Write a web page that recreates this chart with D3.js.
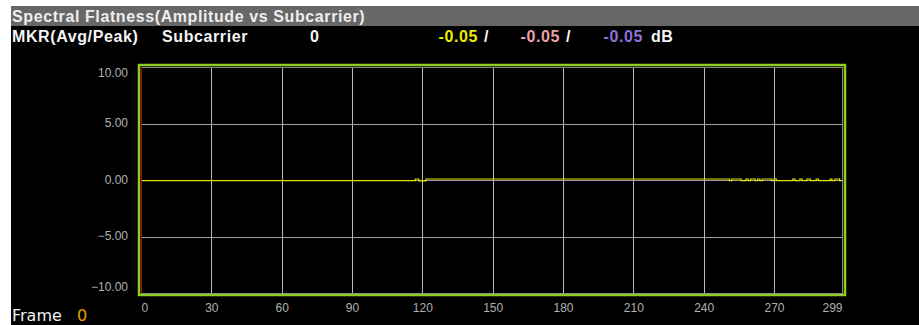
<!DOCTYPE html>
<html><head><meta charset="utf-8">
<script src="https://cdn.jsdelivr.net/npm/d3@7"></script>
<style>body{margin:0;background:#fff;} svg{display:block}</style>
</head><body><svg id="c" width="919" height="325"></svg>
<script>
// ---- data ----
const chartTitle = "Spectral Flatness(Amplitude vs Subcarrier)";
const markerLabel = "MKR(Avg/Peak)";
const markerAxisLabel = "Subcarrier";
const markerSubcarrier = 0;
const markerValues = [-0.05, -0.05, -0.05];
const markerUnit = "dB";
const frameLabel = "Frame";
const frameNumber = 0;
const xDomain = [0, 299];
const yDomain = [-10, 10];
const xTicks = [0, 30, 60, 90, 120, 150, 180, 210, 240, 270, 299];
const yTicks = [10, 5, 0, -5, -10];
// trace as runs: [fromSubcarrier, toSubcarrier, dB]
const traceRuns = [
  [0, 117, -0.05], [117, 118.5, 0.09], [118.5, 121.5, -0.08], [121.5, 251, 0.09],
  [251, 252, -0.05], [252, 256, 0.09], [256, 258, -0.05], [258, 259, 0.09],
  [259, 260, -0.05], [260, 262, 0.09], [262, 263, -0.05], [263, 264, 0.09],
  [264, 265, -0.05], [265, 269, 0.09], [269, 270, -0.05], [270, 271, 0.09],
  [271, 278, -0.05], [278, 279, 0.09], [279, 281, -0.05], [281, 282, 0.09],
  [282, 284, -0.05], [284, 285.5, 0.09], [285.5, 288, -0.05], [288, 289, 0.09],
  [289, 294, -0.05], [294, 294.7, 0.09], [294.7, 296, -0.05], [296, 298, 0.09],
  [298, 299, -0.05]
];

// ---- styles ----
const markerColors = ["#eded00", "#e9a3ab", "#8f72da"];
const headerFont = "'Liberation Sans', Arial, sans-serif";
const frameFont = "'DejaVu Sans', sans-serif";
const tickFont = "'Liberation Sans', Arial, sans-serif";

const svg = d3.select("#c");
svg.append("rect").attr("x", 11).attr("y", 6).attr("width", 908).attr("height", 20).attr("fill", "#676767");
svg.append("rect").attr("x", 11).attr("y", 26).attr("width", 908).attr("height", 299).attr("fill", "#000");

const hdr = (sel) => sel.attr("font-family", headerFont).attr("font-size", 16)
  .attr("font-weight", "bold").attr("letter-spacing", 0.6);

hdr(svg.append("text")).attr("x", 12).attr("y", 21.5).attr("fill", "#eeeeee").text(chartTitle);

const row = hdr(svg.append("g"));
row.append("text").attr("x", 12).attr("y", 42).attr("fill", "#f4f4f4").text(markerLabel);
row.append("text").attr("x", 162).attr("y", 42).attr("fill", "#f4f4f4").text(markerAxisLabel);
row.append("text").attr("x", 310).attr("y", 42).attr("fill", "#f4f4f4").text(markerSubcarrier);
const valEnds = [478, 560, 643];
const fmtV = v => v.toFixed(2);
markerValues.forEach((v, i) => {
  row.append("text").attr("x", valEnds[i]).attr("y", 42).attr("text-anchor", "end")
    .attr("fill", markerColors[i]).text(fmtV(v));
  if (i < markerValues.length - 1)
    row.append("text").attr("x", valEnds[i] + 6).attr("y", 42).attr("fill", "#f4f4f4").text("/");
});
row.append("text").attr("x", 651).attr("y", 42).attr("fill", "#f4f4f4").text(markerUnit);

svg.append("text").attr("x", 12).attr("y", 321).attr("font-family", frameFont).attr("font-size", 16)
  .attr("fill", "#f0f0f0").text(frameLabel);
svg.append("text").attr("x", 77).attr("y", 321).attr("font-family", frameFont).attr("font-size", 16)
  .attr("fill", "#e6a000").text(frameNumber);

// ---- plot ----
const L = 141, R = 842, T = 67, B = 293;
const x = d3.scaleLinear().domain(xDomain).range([L, R]);
const y = d3.scaleLinear().domain(yDomain).range([B, T]);

// green frame
svg.append("rect").attr("x", 139).attr("y", 65).attr("width", 706).attr("height", 230)
  .attr("fill", "none").attr("stroke", "#8fcf1f").attr("stroke-width", 2.5);

// grid + labels
const gx = svg.append("g").attr("transform", `translate(0,${B})`)
  .call(d3.axisBottom(x).tickValues(xTicks).tickSize(-(B - T)).tickPadding(10));
gx.select(".domain").remove();
gx.selectAll("line").attr("stroke", "#b8b8b8").attr("shape-rendering", "crispEdges");
gx.selectAll("text").attr("fill", "#b0b0b0").attr("font-family", tickFont).attr("font-size", 12)
  .attr("text-anchor", (d, i) => i === 0 ? "start" : (i === xTicks.length - 1 ? "end" : "middle"));

const gy = svg.append("g").attr("transform", `translate(${L},0)`)
  .call(d3.axisLeft(y).tickValues(yTicks).tickSize(-(R - L)).tickPadding(13).tickFormat(d3.format(".2f")));
gy.select(".domain").remove();
gy.selectAll("line").attr("stroke", "#a0a0a0").attr("shape-rendering", "crispEdges");
gy.selectAll("text").attr("fill", "#b0b0b0").attr("font-family", tickFont).attr("font-size", 12)
  .attr("dy", d => d === 10 ? "9px" : (d === -10 ? "-3px" : "3px"));

// plot border
svg.append("rect").attr("x", L).attr("y", T).attr("width", R - L).attr("height", B - T)
  .attr("fill", "none").attr("stroke", "#8a8a8a").attr("shape-rendering", "crispEdges");

// trace
const pts = [];
traceRuns.forEach(r => { pts.push([r[0], r[2]]); pts.push([r[1], r[2]]); });
svg.append("path").datum(pts)
  .attr("d", d3.line().x(d => x(d[0])).y(d => y(d[1])))
  .attr("fill", "none").attr("stroke", "#e4e400").attr("stroke-width", 1.2);

// marker line
svg.append("line").attr("x1", x(markerSubcarrier)).attr("x2", x(markerSubcarrier))
  .attr("y1", T).attr("y2", B).attr("stroke", "#d00000").attr("stroke-width", 1)
  .attr("shape-rendering", "crispEdges");
</script></body></html>
